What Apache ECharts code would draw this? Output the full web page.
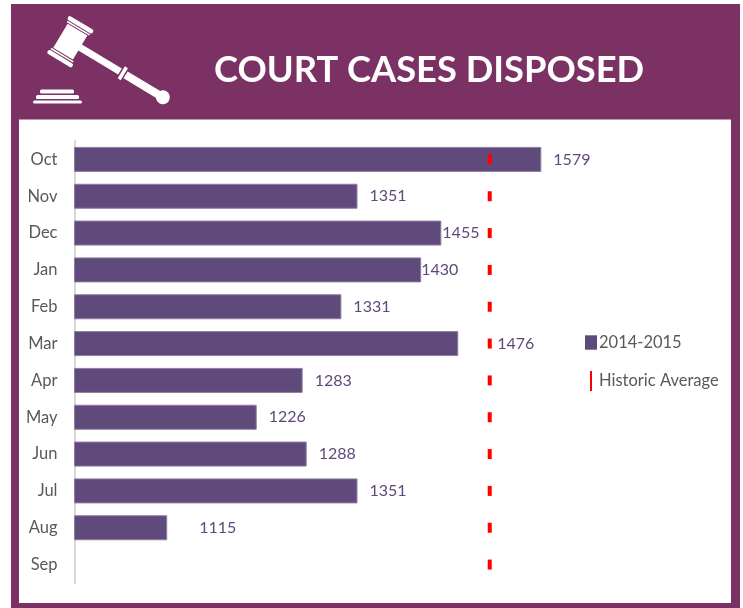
<!DOCTYPE html>
<html>
<head>
<meta charset="utf-8">
<style>
  html, body { margin: 0; padding: 0; background: #fff; }
  #main { width: 743px; height: 608px; }
</style>
</head>
<body>
<div id="main"></div>
<script src="https://cdn.jsdelivr.net/npm/echarts@6/dist/echarts.min.js"></script>
<script>
const months = ['Oct', 'Nov', 'Dec', 'Jan', 'Feb', 'Mar', 'Apr', 'May', 'Jun', 'Jul', 'Aug', 'Sep']
const cases = [1579, 1351, 1455, 1430, 1331, 1476, 1283, 1226, 1288, 1351, 1115, null]
const historicAverage = [1515, 1515, 1515, 1515, 1515, 1515, 1515, 1515, 1515, 1515, 1515, 1515]
// gap between bar end and its label, the original moves some off the red marks
const labelGaps = [12, 12, 1, 0, 12, 39, 12, 12, 12, 12, 32, 12]

const purple = '#7b3163'
const barColor = '#604a7b'
const font = 'Lato'

const chart = echarts.init(document.getElementById('main'))

const white = {fill: '#fff'}
const gavel = {
  type: 'group',
  x: 70.3,
  y: 41.7,
  rotation: -31 * Math.PI / 180,
  children: [
    {type: 'rect', shape: {x: -14.5, y: -22, width: 29, height: 4.5, r: 2}, style: white},
    {type: 'rect', shape: {x: -13, y: -16.5, width: 26, height: 1.5}, style: white},
    {type: 'rect', shape: {x: -11.5, y: -14, width: 23, height: 28}, style: white},
    {type: 'rect', shape: {x: -13, y: 15, width: 26, height: 1.5}, style: white},
    {type: 'rect', shape: {x: -14.5, y: 17.5, width: 29, height: 4.5, r: 2}, style: white},
    {type: 'rect', shape: {x: 11, y: -3.5, width: 47, height: 7}, style: white},
    {type: 'rect', shape: {x: 59.5, y: -7, width: 3.5, height: 14}, style: white},
    {type: 'rect', shape: {x: 64.5, y: -4, width: 40, height: 8}, style: white},
    {type: 'circle', shape: {cx: 108, cy: 0, r: 7}, style: white}
  ]
}

chart.setOption({
  animation: false,
  textStyle: {fontFamily: font},
  title: {
    text: 'COURT CASES DISPOSED',
    left: 209,
    top: 47,
    textStyle: {color: '#fff', fontFamily: font, fontWeight: 'bold', fontSize: 36.3}
  },
  graphic: [
    {type: 'rect', shape: {x: 11, y: 4, width: 729, height: 604}, style: {fill: purple}},
    {type: 'rect', shape: {x: 19, y: 119.5, width: 712, height: 483.5}, style: white},
    gavel,
    {type: 'rect', shape: {x: 40, y: 89.5, width: 34, height: 4, r: 1.5}, style: white},
    {type: 'rect', shape: {x: 36, y: 95, width: 43, height: 4, r: 1.5}, style: white},
    {type: 'rect', shape: {x: 33, y: 100.5, width: 49, height: 3, r: 1.5}, style: white}
  ],
  grid: {left: 74.5, top: 141, width: 645, height: 442},
  legend: {
    left: 580,
    top: 329,
    orient: 'vertical',
    itemWidth: 12,
    itemHeight: 20,
    itemGap: 20,
    selectedMode: false,
    itemStyle: {borderWidth: 0},
    textStyle: {color: '#595959', fontFamily: font, fontSize: 16.5, padding: [0, 0, 0, -3]},
    data: [
      {name: '2014-2015', icon: 'path://M0 0h10v12h-10z'},
      {name: 'Historic Average', icon: 'path://M0 0h2v20h-2z'}
    ]
  },
  xAxis: {
    type: 'value',
    min: 1000,
    max: 1800,
    show: false
  },
  yAxis: {
    type: 'category',
    inverse: true,
    data: months,
    axisTick: {show: false},
    axisLine: {lineStyle: {color: '#d9d9d9', width: 2}},
    axisLabel: {color: '#595959', fontFamily: font, fontSize: 16.5, margin: 17}
  },
  series: [
    {
      name: '2014-2015',
      type: 'bar',
      barWidth: 25,
      itemStyle: {color: barColor, borderColor: '#8d7ea1', borderWidth: 1},
      data: cases.map((value, i) => ({
        value: value,
        label: {distance: labelGaps[i]}
      })),
      label: {
        show: true,
        position: 'right',
        color: '#5f497a',
        fontFamily: font,
        fontSize: 16
      }
    },
    {
      name: 'Historic Average',
      type: 'scatter',
      symbol: 'rect',
      symbolSize: [4, 10],
      itemStyle: {color: '#ff0000', opacity: 1},
      z: 5,
      data: historicAverage.map((value, i) => [value, months[i]])
    }
  ]
})
</script>
</body>
</html>
